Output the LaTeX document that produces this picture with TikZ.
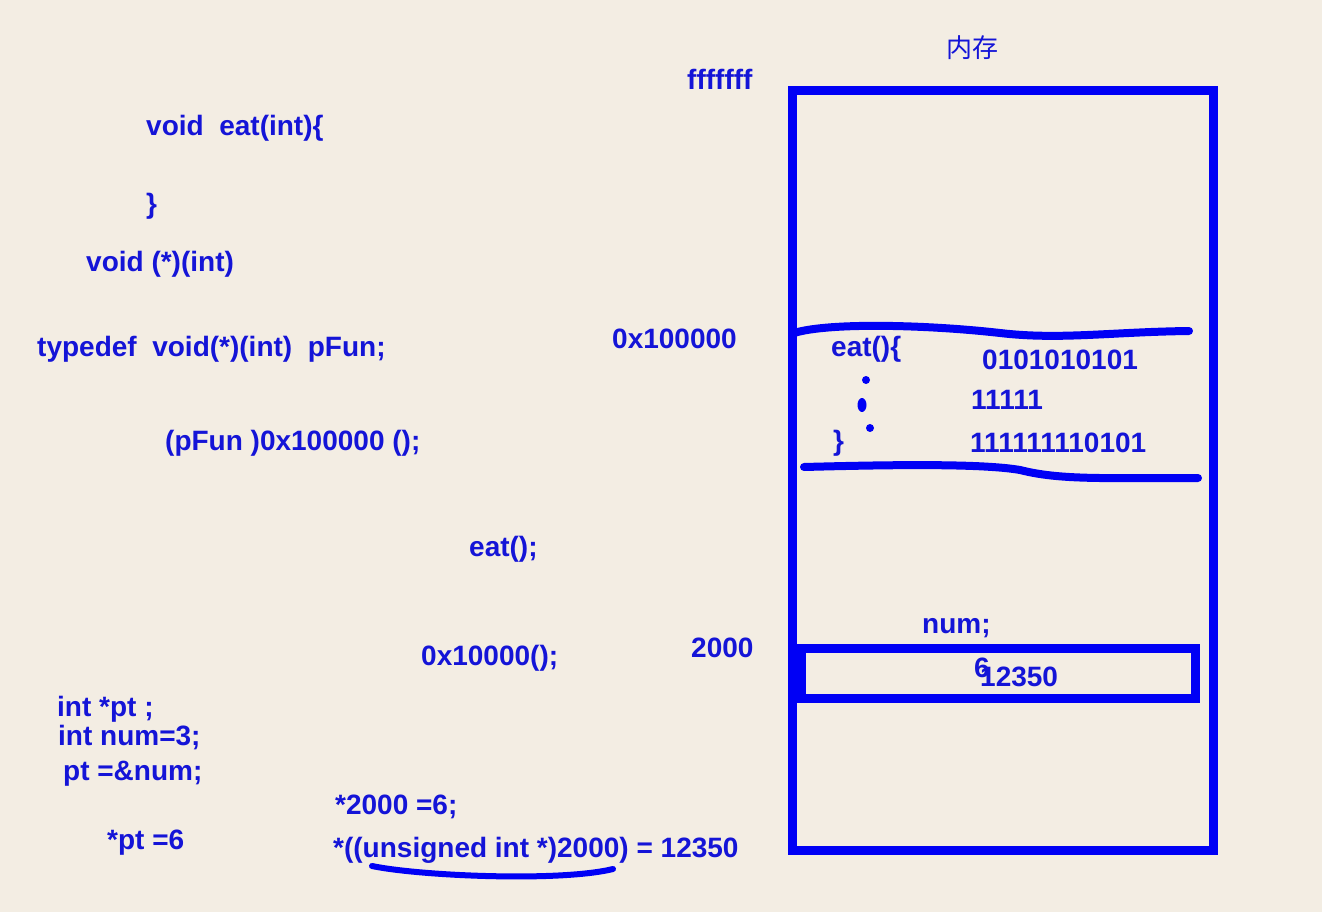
\documentclass[tikz,border=0pt]{standalone}
\usepackage{fontspec}
\usetikzlibrary{shapes.geometric}
\setmainfont{Liberation Sans}
\newfontfamily\cjk{Noto Sans CJK SC}
\definecolor{bg}{RGB}{243,237,227}
\definecolor{ink}{RGB}{20,20,215}
\definecolor{pen}{RGB}{0,0,245}
\begin{document}
\begin{tikzpicture}[x=1pt,y=-1pt,
  code/.style={anchor=base west,inner sep=0pt,text=ink,font=\fontsize{28}{30}\selectfont\bfseries},
  penline/.style={draw=pen,line width=8pt,line cap=round},
  boxline/.style={draw=pen,line width=9pt,inner sep=0pt,anchor=center},
  dotmark/.style={fill=pen,draw=none}]
\useasboundingbox[fill=bg] (0,0) rectangle (1322,912);
% left column code
\node[code] (l1) at (146,136) {void\ \ eat(int)\{};
\node[code] (l2) at (146,214) {\}};
\node[code] (l3) at (86,271) {void (*)(int)};
\node[code] (l4) at (37,356) {typedef\ \ void(*)(int)\ \ pFun;};
\node[code] (l5) at (165,450) {(pFun )0x100000 ();};
\node[code] (l6) at (469,556) {eat();};
\node[code] (l7) at (421,665) {0x10000();};
\node[code] (l8) at (57,716) {int *pt ;};
\node[code] (l9) at (58,745) {int num=3;};
\node[code] (l10) at (63,780) {pt =\&num;};
\node[code] (l11) at (335,814) {*2000 =6;};
\node[code] (l12) at (107,849) {*pt =6};
\node[code] (l13) at (333,857) {*((unsigned int *)2000) = 12350};
\coordinate (u1) at (372,866);
\coordinate (u2) at (613,869);
\draw[penline,line width=6pt] (u1) .. controls (420,876) and (560,882) .. (u2);
% addresses
\node[code] (aF) at (687,90) {fffffff};
\node[anchor=center,inner sep=0pt,text=ink,font=\cjk\fontsize{26}{28}\selectfont] (title) at (972,48) {内存};
\node[code] (a1) at (612,348) {0x100000};
\node[code] (a2) at (691,657) {2000};
% memory box
\node[boxline,minimum width=421pt,minimum height=759pt] (mem) at (1002.5,470.5) {};
\node[boxline,minimum width=394pt,minimum height=50pt] (cell) at (998,673) {};
\node[code] (num) at (922,633) {num;};
\node[code] (v6) at (974,677) {6};
\node[code] (v12350) at (980,686) {12350};
% function region
\coordinate (w1) at (794,333);
\coordinate (w2) at (1189,331);
\draw[penline] (w1) .. controls (830,322) and (930,325) .. (1000,333) .. controls (1060,340) and (1110,332) .. (w2);
\coordinate (b1) at (804,467);
\coordinate (b2) at (1198,478);
\draw[penline] (b1) .. controls (880,465) and (980,463) .. (1020,470) .. controls (1060,480) and (1100,478) .. (b2);
\node[code] (e1) at (831,356) {eat()\{};
\node[code] (e2) at (833,450) {\}};
\node[code] (d1) at (982,369) {0101010101};
\node[code] (d2) at (971,409) {11111};
\node[code] (d3) at (970,452) {111111110101};
\node[dotmark,circle,minimum size=8pt,inner sep=0pt] (p1) at (866,380) {};
\node[dotmark,ellipse,minimum width=9pt,minimum height=14pt,inner sep=0pt] (p2) at (862,405) {};
\node[dotmark,circle,minimum size=8pt,inner sep=0pt] (p3) at (870,428) {};
\end{tikzpicture}
\end{document}
